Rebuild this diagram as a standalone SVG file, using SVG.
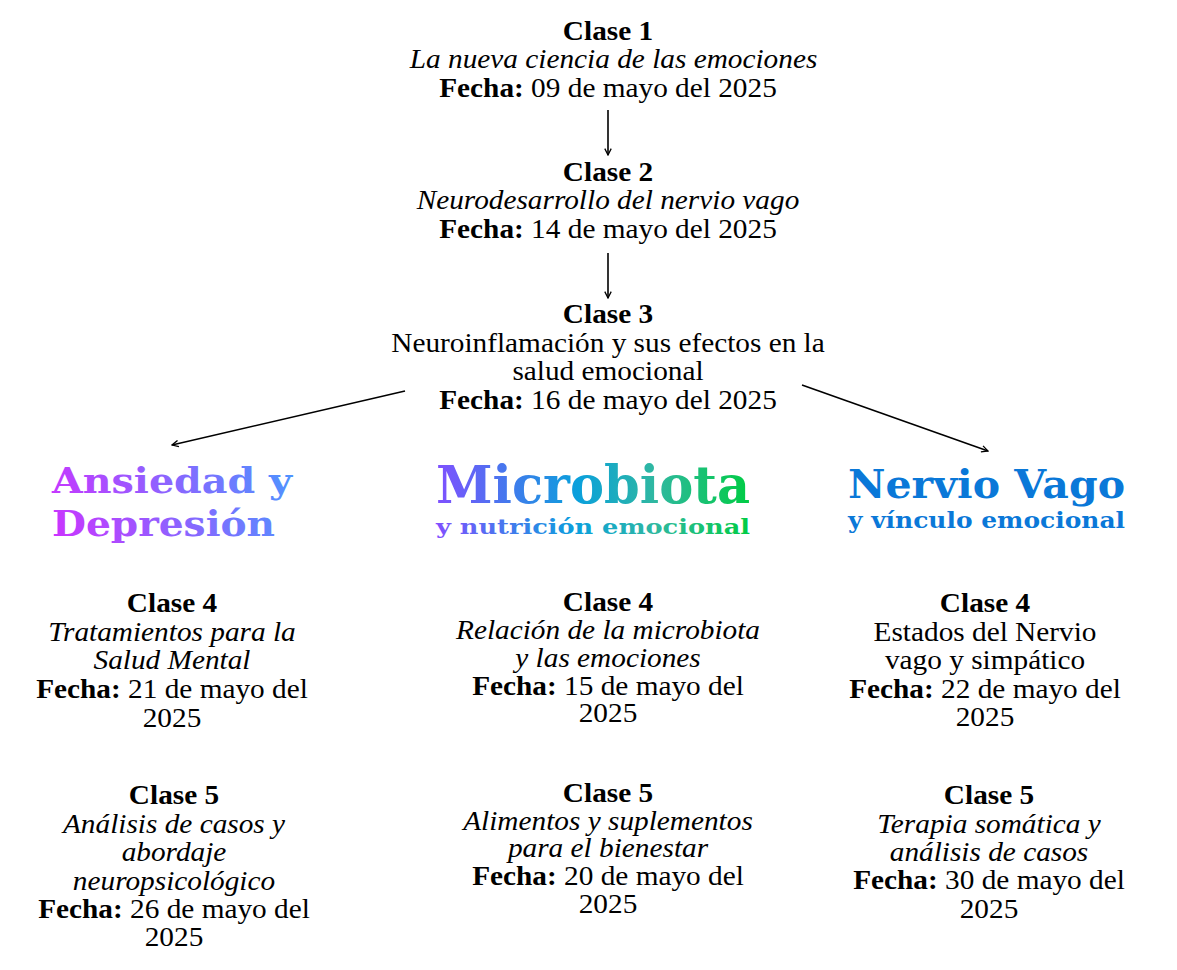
<svg xmlns="http://www.w3.org/2000/svg" width="1177" height="970" viewBox="0 0 1177 970">
<style>
text{font-family:"Liberation Serif","DejaVu Serif",serif;font-size:26.5px;fill:#000;text-anchor:middle}
.b{font-weight:bold}
.i{font-style:italic}
.h{font-weight:bold;font-family:"DejaVu Serif","Liberation Serif",serif;text-anchor:start}
.conn line{stroke:#000;stroke-width:1.6;fill:none}
</style>
<defs>
<marker id="ah" viewBox="0 0 10 10" refX="9" refY="5" markerWidth="8" markerHeight="8" markerUnits="userSpaceOnUse" orient="auto">
<path d="M1,1 L9,5 L1,9" fill="none" stroke="#000" stroke-width="1.6"/>
</marker>
<linearGradient id="gA" gradientUnits="userSpaceOnUse" x1="52" y1="540" x2="292" y2="465">
<stop offset="0" stop-color="#cc33ff"/>
<stop offset="1" stop-color="#4d94ff"/>
</linearGradient>
<linearGradient id="gM" gradientUnits="userSpaceOnUse" x1="436" y1="0" x2="750" y2="0">
<stop offset="0" stop-color="#8050ff"/>
<stop offset="0.45" stop-color="#0aa0dc"/>
<stop offset="0.7" stop-color="#30b8a0"/>
<stop offset="1" stop-color="#00cc44"/>
</linearGradient>
</defs>

<g class="conn">
<line x1="608" y1="110" x2="608" y2="155" marker-end="url(#ah)"/>
<line x1="608" y1="253" x2="608" y2="298" marker-end="url(#ah)"/>
<line x1="405" y1="391" x2="172" y2="445" marker-end="url(#ah)"/>
<line x1="802" y1="385" x2="988" y2="451" marker-end="url(#ah)"/>
</g>

<g id="clase1" transform="translate(608,0) scale(1.106,1)">
<text x="0" y="40" class="b">Clase 1</text>
<text x="5" y="68" class="i">La nueva ciencia de las emociones</text>
<text x="0" y="97"><tspan class="b">Fecha:</tspan> 09 de mayo del 2025</text>
</g>

<g id="clase2" transform="translate(608,0) scale(1.106,1)">
<text x="0" y="181" class="b">Clase 2</text>
<text x="0" y="209" class="i">Neurodesarrollo del nervio vago</text>
<text x="0" y="238"><tspan class="b">Fecha:</tspan> 14 de mayo del 2025</text>
</g>

<g id="clase3" transform="translate(608,0) scale(1.106,1)">
<text x="0" y="323" class="b">Clase 3</text>
<text x="0" y="352">Neuroinflamación y sus efectos en la</text>
<text x="0" y="380">salud emocional</text>
<text x="0" y="409"><tspan class="b">Fecha:</tspan> 16 de mayo del 2025</text>
</g>

<g id="titulo-ansiedad">
<text class="h" style="font-size:36px;fill:url(#gA)"><tspan x="52" y="493" textLength="240" lengthAdjust="spacingAndGlyphs">Ansiedad y</tspan><tspan x="52" y="535.5" textLength="223" lengthAdjust="spacingAndGlyphs">Depresión</tspan></text>
</g>

<g id="titulo-microbiota">
<text class="h" style="fill:url(#gM)"><tspan x="436" y="503" style="font-size:52px" textLength="314" lengthAdjust="spacingAndGlyphs">Microbiota</tspan><tspan x="436" y="534" style="font-size:21px" textLength="314" lengthAdjust="spacingAndGlyphs">y nutrición emocional</tspan></text>
</g>

<g id="titulo-nervio">
<text class="h" style="fill:#0a78d8"><tspan x="848" y="498" style="font-size:39px" textLength="277" lengthAdjust="spacingAndGlyphs">Nervio Vago</tspan><tspan x="848" y="528" style="font-size:22px" textLength="277" lengthAdjust="spacingAndGlyphs">y vínculo emocional</tspan></text>
</g>

<g id="ansiedad-clase4" transform="translate(172,0) scale(1.106,1)">
<text x="0" y="612" class="b">Clase 4</text>
<text x="0" y="641" class="i">Tratamientos para la</text>
<text x="0" y="669" class="i">Salud Mental</text>
<text x="0" y="698"><tspan class="b">Fecha:</tspan> 21 de mayo del</text>
<text x="0" y="727">2025</text>
</g>

<g id="ansiedad-clase5" transform="translate(174,0) scale(1.106,1)">
<text x="0" y="804" class="b">Clase 5</text>
<text x="0" y="833" class="i">Análisis de casos y</text>
<text x="0" y="861" class="i">abordaje</text>
<text x="0" y="890" class="i">neuropsicológico</text>
<text x="0" y="918"><tspan class="b">Fecha:</tspan> 26 de mayo del</text>
<text x="0" y="946">2025</text>
</g>

<g id="microbiota-clase4" transform="translate(608,0) scale(1.106,1)">
<text x="0" y="611" class="b">Clase 4</text>
<text x="0" y="639" class="i">Relación de la microbiota</text>
<text x="0" y="667" class="i">y las emociones</text>
<text x="0" y="695"><tspan class="b">Fecha:</tspan> 15 de mayo del</text>
<text x="0" y="722">2025</text>
</g>

<g id="microbiota-clase5" transform="translate(608,0) scale(1.106,1)">
<text x="0" y="802" class="b">Clase 5</text>
<text x="0" y="830" class="i">Alimentos y suplementos</text>
<text x="0" y="857" class="i">para el bienestar</text>
<text x="0" y="885"><tspan class="b">Fecha:</tspan> 20 de mayo del</text>
<text x="0" y="913">2025</text>
</g>

<g id="nervio-clase4" transform="translate(985,0) scale(1.106,1)">
<text x="0" y="612" class="b">Clase 4</text>
<text x="0" y="641">Estados del Nervio</text>
<text x="0" y="669">vago y simpático</text>
<text x="0" y="698"><tspan class="b">Fecha:</tspan> 22 de mayo del</text>
<text x="0" y="726">2025</text>
</g>

<g id="nervio-clase5" transform="translate(989,0) scale(1.106,1)">
<text x="0" y="804" class="b">Clase 5</text>
<text x="0" y="833" class="i">Terapia somática y</text>
<text x="0" y="861" class="i">análisis de casos</text>
<text x="0" y="889"><tspan class="b">Fecha:</tspan> 30 de mayo del</text>
<text x="0" y="918">2025</text>
</g>
</svg>
